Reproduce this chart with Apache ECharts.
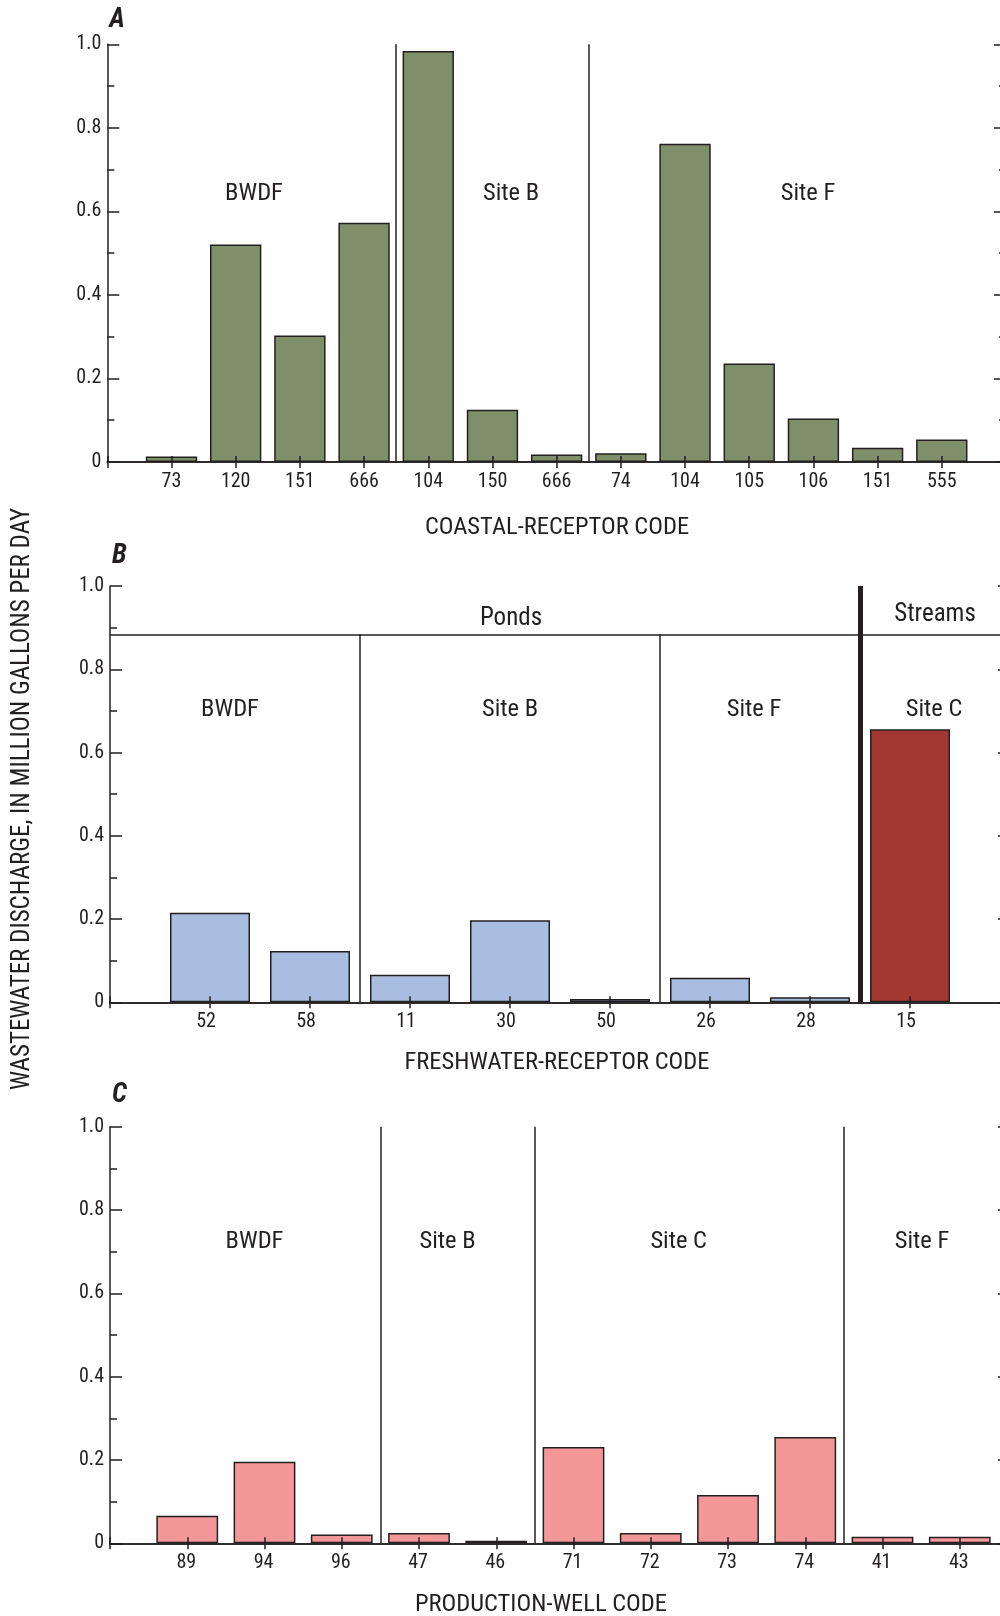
<!DOCTYPE html>
<html><head><meta charset="utf-8">
<script src="https://cdn.jsdelivr.net/npm/echarts@6/dist/echarts.min.js"></script>
<style>html,body{margin:0;padding:0;background:#fff}#c{width:1000px;height:1616px}</style>
</head><body><div id="c"></div>
<script>
// ---------- DATA ----------
const yTickValues = [0, 0.2, 0.4, 0.6, 0.8, 1.0];

// Panel A: coastal receptors
const coastalCodes  = ['73','120','151','666','104','150','666','74','104','105','106','151','555'];
const coastalValues = [0.013,0.521,0.303,0.573,0.984,0.125,0.018,0.021,0.762,0.236,0.104,0.034,0.054];
const coastalSites  = ['BWDF','Site B','Site F'];
const coastalSiteSizes = [4, 3, 6];

// Panel B: freshwater receptors
const freshCodes  = ['52','58','11','30','50','26','28','15'];
const freshValues = [0.215,0.123,0.066,0.197,0.008,0.059,0.012,0.656];
const freshSites  = ['BWDF','Site B','Site F','Site C'];
const freshSiteSizes = [2, 3, 2, 1];
const freshTypes  = ['Ponds','Streams'];
const freshTypeSizes = [7, 1];

// Panel C: production wells
const wellCodes  = ['89','94','96','47','46','71','72','73','74','41','43'];
const wellValues = [0.066,0.196,0.021,0.025,0.006,0.231,0.025,0.116,0.255,0.016,0.016];
const wellSites  = ['BWDF','Site B','Site C','Site F'];
const wellSiteSizes = [3, 2, 4, 2];

// ---------- STYLE ----------
const INK = '#231f20';
const FONT = "'Liberation Sans Narrow','Arial Narrow','Roboto Condensed','DejaVu Sans Condensed','Liberation Sans',sans-serif";
const GREEN = '#7f8f69', BLUE = '#a8bde0', RED = '#a33832', PINK = '#f39798';

const panels = [
  {codes: coastalCodes, values: coastalValues, sites: coastalSites, sizes: coastalSiteSizes,
   colors: coastalCodes.map(()=>GREEN),
   grid: {left:107.3, top:44.3, height:417.7, right:-6}, rightOffset:0, labelPad:[0,0,0,0],
   siteY: 194, siteX: [254, 511, 808],
   title: 'COASTAL-RECEPTOR CODE', titleX: 557, titleY: 528, letter: 'A', letterY: 20.5},
  {codes: freshCodes, values: freshValues, sites: freshSites, sizes: freshSiteSizes,
   colors: freshCodes.map((c,i)=> i >= freshTypeSizes[0] ? RED : BLUE),
   grid: {left:110, top:586, height:416.3, right:-10}, rightOffset:0, labelPad:[0,8,0,0],
   siteY: 710, siteX: [230, 510, 754, 934],
   title: 'FRESHWATER-RECEPTOR CODE', titleX: 557, titleY: 1063, letter: 'B', letterY: 556.5},
  {codes: wellCodes, values: wellValues, sites: wellSites, sizes: wellSiteSizes,
   colors: wellCodes.map(()=>PINK),
   grid: {left:110, top:1126.7, height:416.6, right:-37}, rightOffset:-27, labelPad:[0,2,0,0],
   siteY: 1241.5, siteX: [254.5, 447.5, 678.7, 922],
   title: 'PRODUCTION-WELL CODE', titleX: 541, titleY: 1605, letter: 'C', letterY: 1095}
];
const HEADER_LEVEL = 0.884;

const grid = [], xAxis = [], yAxis = [], series = [], graphic = [];
const lineSt = {color: INK, width: 1.5};

panels.forEach((p, g) => {
  const cats = [''].concat(p.codes, ['']);
  const n = cats.length;
  grid.push(Object.assign({containLabel:false, outerBoundsMode:'none'}, p.grid));
  // bottom category axis
  xAxis.push({type:'category', gridIndex:g, position:'bottom', data:cats, boundaryGap:false, z:5,
    axisLine:{show:true, lineStyle:lineSt},
    axisTick:{show:true, inside:true, length:6, interval:0, lineStyle:lineSt},
    axisLabel:{interval:0, fontFamily:FONT, fontSize:20, color:INK, margin:10, padding:p.labelPad},
    splitLine:{show:false}});
  // top category axis (ticks only)
  xAxis.push({type:'category', gridIndex:g, position:'top', data:cats, boundaryGap:false, z:5,
    axisLine:{show:true, lineStyle:lineSt},
    axisTick:{show:true, inside:true, length:6, interval:0, lineStyle:lineSt},
    axisLabel:{show:false}, splitLine:{show:false}});
  // hidden value axis for group dividers
  xAxis.push({type:'value', gridIndex:g, min:0, max:n-1, show:false, splitLine:{show:false}});
  ['left','right'].forEach(side => {
    yAxis.push({type:'value', gridIndex:g, position:side, min:0, max:1, interval:0.2, z:5,
      offset: side==='right' ? p.rightOffset : 0,
      axisLine:{show:true, lineStyle:lineSt},
      axisTick:{show:true, inside:true, length:12, lineStyle:lineSt},
      minorTick:{show:true, splitNumber:2, length:7, lineStyle:lineSt},
      axisLabel:{show: side==='left', fontFamily:FONT, fontSize:20, color:INK, margin:6,
        formatter: v => v === 0 ? '0' : v.toFixed(1)},
      splitLine:{show:false}});
  });
  const data = [null].concat(p.values.map((v,i)=>({value:v, itemStyle:{color:p.colors[i]}})), [null]);
  series.push({type:'bar', xAxisIndex:3*g, yAxisIndex:2*g, data, barWidth:'80%',
    itemStyle:{borderColor:INK, borderWidth:1.5}, z:2});
  // dividers
  const ml = [];
  let pos = 0.5;
  const topVal = (g === 1) ? HEADER_LEVEL : 1;
  p.sizes.slice(0, -1).forEach((s, k) => {
    pos += s;
    const thick = (g === 1 && pos === 0.5 + freshTypeSizes[0]);
    if (thick) {
      ml.push([{coord:[pos,0], lineStyle:{width:5, color:INK}}, {coord:[pos,1]}]);
    } else {
      ml.push([{coord:[pos,0]}, {coord:[pos,topVal]}]);
    }
  });
  if (g === 1) {
    ml.push([{coord:[0,HEADER_LEVEL]}, {coord:[n-1,HEADER_LEVEL]}]);
  }
  series.push({type:'line', xAxisIndex:3*g+2, yAxisIndex:2*g, data:[], silent:true,
    markLine:{silent:true, symbol:['none','none'], label:{show:false}, animation:false,
      lineStyle:{color:INK, width:1.5, type:'solid'}, emphasis:{disabled:true}, data: ml}});
  // site labels
  p.sites.forEach((s,k) => {
    graphic.push({type:'text', x:p.siteX[k], y:p.siteY, silent:true,
      style:{text:s, font:'24.5px '+FONT, fill:INK, align:'center', verticalAlign:'middle'}});
  });
  graphic.push({type:'text', x:p.titleX, y:p.titleY, silent:true,
    style:{text:p.title, font:'24.5px '+FONT, fill:INK, align:'center', verticalAlign:'middle'}});
  graphic.push({type:'text', x:p.grid.left + 2, y:p.letterY, silent:true,
    style:{text:p.letter, font:'italic bold 27px '+FONT, fill:INK, align:'left', verticalAlign:'middle'}});
});

// Ponds / Streams header labels
[[freshTypes[0], 511, 619], [freshTypes[1], 935, 614.5]].forEach(t => {
  graphic.push({type:'text', x:t[1], y:t[2], silent:true,
    style:{text:t[0], font:'25px '+FONT, fill:INK, align:'center', verticalAlign:'middle'}});
});

// shared y-axis title
graphic.push({type:'text', x:23, y:799, rotation:Math.PI/2, silent:true,
  style:{text:'WASTEWATER DISCHARGE, IN MILLION GALLONS PER DAY', font:'25px '+FONT, fill:INK,
    align:'center', verticalAlign:'middle'}});

const chart = echarts.init(document.getElementById('c'), null, {renderer:'canvas'});
chart.setOption({animation:false, backgroundColor:'#fff', grid, xAxis, yAxis, series, graphic});
</script></body></html>
